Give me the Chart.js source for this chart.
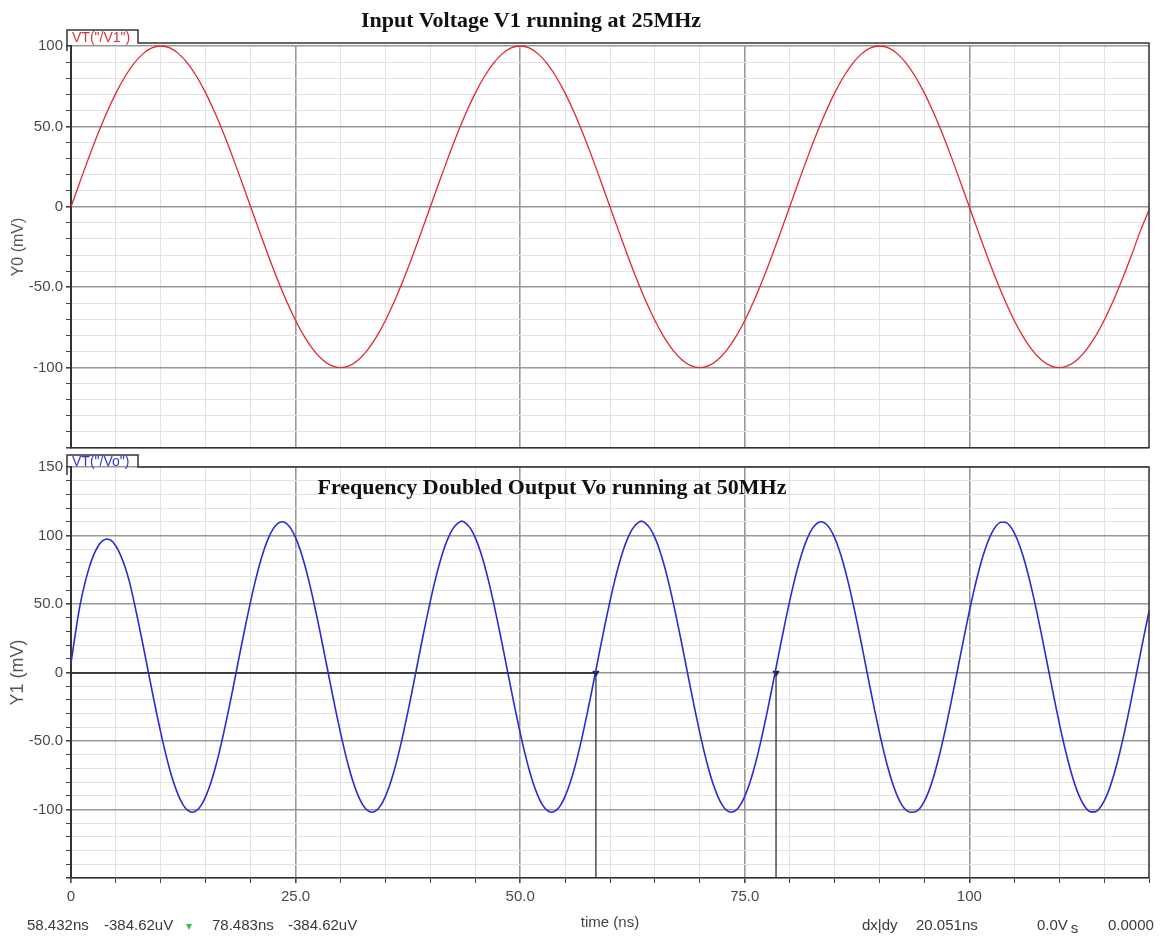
<!DOCTYPE html>
<html><head><meta charset="utf-8">
<script src="https://cdn.jsdelivr.net/npm/chart.js@4.4.1/dist/chart.umd.min.js"></script>
<style>
html,body{margin:0;padding:0;background:#fff;width:1165px;height:940px;overflow:hidden;position:relative;font-family:'Liberation Sans',Arial,sans-serif;}
#c1{position:absolute;left:0;top:0;}
#c2{position:absolute;left:0;top:452px;}
.title{position:absolute;font:bold 22px 'Liberation Serif','Times New Roman',serif;color:#111;white-space:nowrap;transform:translateX(-50%);line-height:22px;}
.st{position:absolute;top:916px;font-size:15px;line-height:17px;color:#3a3a3a;white-space:nowrap;}
.tri{position:absolute;left:186px;top:924px;width:0;height:0;border-left:3px solid transparent;border-right:3px solid transparent;border-top:6px solid #2fc53a;}
</style></head><body>
<canvas id="c1" width="1165" height="460"></canvas>
<canvas id="c2" width="1165" height="488"></canvas>
<div class="title" style="left:531px;top:9px">Input Voltage V1 running at 25MHz</div>
<div class="title" style="left:552px;top:476px">Frequency Doubled Output Vo running at 50MHz</div>
<span class="st" style="left:27px">58.432ns</span>
<span class="st" style="left:104px">-384.62uV</span>
<span class="tri"></span>
<span class="st" style="left:212px">78.483ns</span>
<span class="st" style="left:288px">-384.62uV</span>
<span class="st" style="left:862px">dx|dy</span>
<span class="st" style="left:916px">20.051ns</span>
<span class="st" style="left:1037px">0.0V<span style="position:relative;top:3px;margin-left:3px">s</span></span>
<span class="st" style="left:1108px">0.0000</span>
<script>
// ---- data (mV) ----
const TIME_STEP_V1_NS = 1;    // sample spacing of V1 values
const TIME_STEP_VO_NS = 0.5;  // sample spacing of Vo values
const v1_mV = [
 0, 15.6, 30.9, 45.4, 58.8, 70.7, 80.9, 89.1, 95.1, 98.8,
 100, 98.8, 95.1, 89.1, 80.9, 70.7, 58.8, 45.4, 30.9, 15.6,
 0, -15.6, -30.9, -45.4, -58.8, -70.7, -80.9, -89.1, -95.1, -98.8,
 -100, -98.8, -95.1, -89.1, -80.9, -70.7, -58.8, -45.4, -30.9, -15.6,
 0, 15.6, 30.9, 45.4, 58.8, 70.7, 80.9, 89.1, 95.1, 98.8,
 100, 98.8, 95.1, 89.1, 80.9, 70.7, 58.8, 45.4, 30.9, 15.6,
 0, -15.6, -30.9, -45.4, -58.8, -70.7, -80.9, -89.1, -95.1, -98.8,
 -100, -98.8, -95.1, -89.1, -80.9, -70.7, -58.8, -45.4, -30.9, -15.6,
 0, 15.6, 30.9, 45.4, 58.8, 70.7, 80.9, 89.1, 95.1, 98.8,
 100, 98.8, 95.1, 89.1, 80.9, 70.7, 58.8, 45.4, 30.9, 15.6,
 0, -15.6, -30.9, -45.4, -58.8, -70.7, -80.9, -89.1, -95.1, -98.8,
 -100, -98.8, -95.1, -89.1, -80.9, -70.7, -58.8, -45.4, -30.9, -15.6,
 -2
];
const vo_mV = [
 7, 29, 49, 64, 76, 85.5, 92, 96, 97.5, 96.2, 92.3, 85.9, 77.3,
 66.3, 52.1, 36.8, 20.6, 4, -12.6, -28.8, -44.1, -58.3, -71, -81.8, -90.4, -96.8, -100.7, -102, -100.7, -96.8, -90.4, -81.8, -71, -58.3, -44.1, -28.8, -12.6,
 4, 20.6, 36.8, 52.1, 66.3, 79, 89.8, 98.4, 104.8, 108.7, 110, 108.7, 104.8, 98.4, 89.8, 79, 66.3, 52.1, 36.8, 20.6,
 4, -12.6, -28.8, -44.1, -58.3, -71, -81.8, -90.4, -96.8, -100.7, -102, -100.7, -96.8, -90.4, -81.8, -71, -58.3, -44.1, -28.8, -12.6,
 4, 20.6, 36.8, 52.1, 66.3, 79, 89.8, 98.4, 104.8, 108.7, 110.5, 108.7, 104.8, 98.4, 89.8, 79, 66.3, 52.1, 36.8, 20.6,
 4, -12.6, -28.8, -44.1, -58.3, -71, -81.8, -90.4, -96.8, -100.7, -102, -100.7, -96.8, -90.4, -81.8, -71, -58.3, -44.1, -28.8, -12.6,
 4, 20.6, 36.8, 52.1, 66.3, 79, 89.8, 98.4, 104.8, 108.7, 110.5, 108.7, 104.8, 98.4, 89.8, 79, 66.3, 52.1, 36.8, 20.6,
 4, -12.6, -28.8, -44.1, -58.3, -71, -81.8, -90.4, -96.8, -100.7, -102, -100.7, -96.8, -90.4, -81.8, -71, -58.3, -44.1, -28.8, -12.6,
 4, 20.6, 36.8, 52.1, 66.3, 79, 89.8, 98.4, 104.8, 108.7, 110, 108.7, 104.8, 98.4, 89.8, 79, 66.3, 52.1, 36.8, 20.6,
 4, -12.6, -28.8, -44.1, -58.3, -71, -81.8, -90.4, -96.8, -100.7, -102, -101.7, -99.1, -93.9, -86.4, -76.6, -64.8, -51.4, -36.6, -20.7,
 -4.3, 12.3, 28.7, 44.6, 59.4, 72.8, 84.6, 94.4, 101.9, 107.1, 109.7, 109.7, 107.1, 101.9, 94.4, 84.6, 72.8, 59.4, 44.6, 28.7, 12.3,
 -4.3, -20.7, -36.6, -51.4, -64.8, -76.6, -86.4, -93.9, -99.1, -101.7, -101.7, -99.1, -93.9, -86.4, -76.6, -64.8, -51.4, -36.6, -20.7, -4.3,
 12.3, 28.7, 44.6
];
const cursorTimes_ns = [58.432, 78.483];
const cursorLevel_mV = -0.38462;
const xTickLabels = {0:'0', 25:'25.0', 50:'50.0', 75:'75.0', 100:'100'};
const y0TickLabels = {100:'100', 50:'50.0', 0:'0', '-50':'-50.0', '-100':'-100'};
const y1TickLabels = {150:'150', 100:'100', 50:'50.0', 0:'0', '-50':'-50.0', '-100':'-100'};
const X_RANGE = [0, 120];
const Y0_RANGE = [-150, 100];
const Y1_RANGE = [-150, 150];

// ---- styling helpers ----
const FONT = "'Liberation Sans', Arial, sans-serif";
const MAJOR = '#989898', MINOR = '#e2e2e2';
function gridColor(majorEvery){ return c => (c.tick && Math.abs(c.tick.value % majorEvery) < 1e-6) ? MAJOR : MINOR; }
function gridWidth(majorEvery){ return c => (c.tick && Math.abs(c.tick.value % majorEvery) < 1e-6) ? 1.6 : 1; }

const framePlugin = {
  id: 'frame',
  afterDraw(chart, args, o) {
    const {ctx, chartArea: {left, right, top, bottom}} = chart;
    const ty = top - o.topGap;
    const tabTop = ty - o.tabH;
    const tabL = left - 4, tabR = left + 67;
    ctx.save();
    ctx.strokeStyle = '#333';
    ctx.lineWidth = 1.5;
    ctx.beginPath();
    ctx.moveTo(tabL, ty + 8);
    ctx.lineTo(tabL, tabTop);
    ctx.lineTo(tabR, tabTop);
    ctx.lineTo(tabR, ty);
    ctx.lineTo(right, ty);
    ctx.lineTo(right, bottom);
    ctx.stroke();
    ctx.fillStyle = o.color;
    ctx.font = '14px ' + FONT;
    ctx.textBaseline = 'alphabetic';
    ctx.textAlign = 'left';
    ctx.fillText(o.text, left + 1, ty - 1);
    ctx.restore();
  }
};

function yScale(range, labels, title, titleSize, titlePad) {
  return {
    type: 'linear', min: range[0], max: range[1],
    afterFit(s) { s.width = 71; },
    ticks: { stepSize: 10, autoSkip: false, padding: 3, color: '#4a4a4a', font: {size: 15, family: FONT},
      callback: v => (labels[v] !== undefined ? labels[v] : '') },
    grid: { color: gridColor(50), lineWidth: gridWidth(50), tickColor: '#444', tickLength: 5, drawTicks: true },
    border: { display: true, color: '#333', width: 2 },
    title: { display: true, text: title, color: '#555', font: {size: titleSize, family: FONT}, padding: {top: titlePad, bottom: 0} }
  };
}

// ---- top chart: V1 ----
new Chart(document.getElementById('c1'), {
  type: 'line',
  data: { datasets: [{
    data: v1_mV.map((v, i) => ({x: i * TIME_STEP_V1_NS, y: v})),
    borderColor: '#e3262f', borderWidth: 1.3, pointRadius: 0, cubicInterpolationMode: 'monotone', clip: 4
  }]},
  options: {
    responsive: false, animation: false, events: [],
    layout: { padding: {top: 46, right: 16, bottom: 5, left: 0} },
    plugins: { legend: {display: false}, tooltip: {enabled: false},
      frame: { topGap: 3, tabH: 13, text: 'VT("/V1")', color: '#d9303a' } },
    scales: {
      x: { type: 'linear', min: X_RANGE[0], max: X_RANGE[1],
        afterFit(s) { s.height = 0; },
        ticks: { display: false, stepSize: 5, autoSkip: false },
        grid: { color: gridColor(25), lineWidth: gridWidth(25), drawTicks: false },
        border: { display: true, color: '#333', width: 1.5 } },
      y: yScale(Y0_RANGE, y0TickLabels, 'Y0 (mV)', 16, 9)
    }
  },
  plugins: [framePlugin]
});

// ---- bottom chart: Vo with cursors ----
const cursorDatasets = [
  { data: [{x: X_RANGE[0], y: cursorLevel_mV}, {x: cursorTimes_ns[0], y: cursorLevel_mV}],
    borderColor: '#1a1a1a', borderWidth: 1.6, pointRadius: 0 },
  ...cursorTimes_ns.map(t => ({ data: [{x: t, y: cursorLevel_mV}, {x: t, y: Y1_RANGE[0]}],
    borderColor: '#333', borderWidth: 1.3, pointRadius: 0 })),
  { data: cursorTimes_ns.map(t => ({x: t, y: cursorLevel_mV})), showLine: false,
    pointStyle: 'triangle', rotation: 180, pointRadius: 3.5, pointBackgroundColor: '#222', pointBorderColor: '#222' }
];
new Chart(document.getElementById('c2'), {
  type: 'line',
  data: { datasets: [{
    data: vo_mV.map((v, i) => ({x: i * TIME_STEP_VO_NS, y: v})),
    borderColor: '#2b2bd2', borderWidth: 1.6, pointRadius: 0, cubicInterpolationMode: 'monotone', clip: 4
  }, ...cursorDatasets]},
  options: {
    responsive: false, animation: false, events: [],
    layout: { padding: {top: 15, right: 16, bottom: 0, left: 0} },
    plugins: { legend: {display: false}, tooltip: {enabled: false},
      frame: { topGap: 0, tabH: 12, text: 'VT("/Vo")', color: '#3434d6' } },
    scales: {
      x: { type: 'linear', min: X_RANGE[0], max: X_RANGE[1],
        afterFit(s) { s.height = 62; },
        ticks: { stepSize: 5, autoSkip: false, maxRotation: 0, padding: 5, color: '#4a4a4a', font: {size: 15, family: FONT},
          callback: v => (xTickLabels[v] !== undefined ? xTickLabels[v] : '') },
        grid: { color: gridColor(25), lineWidth: gridWidth(25), tickColor: '#444', tickLength: 5 },
        border: { display: true, color: '#333', width: 1.5 },
        title: { display: true, text: 'time (ns)', color: '#444', font: {size: 15, family: FONT}, padding: {top: 0, bottom: 8} } },
      y: yScale(Y1_RANGE, y1TickLabels, 'Y1 (mV)', 18, 7)
    }
  },
  plugins: [framePlugin]
});
</script>
</body></html>
